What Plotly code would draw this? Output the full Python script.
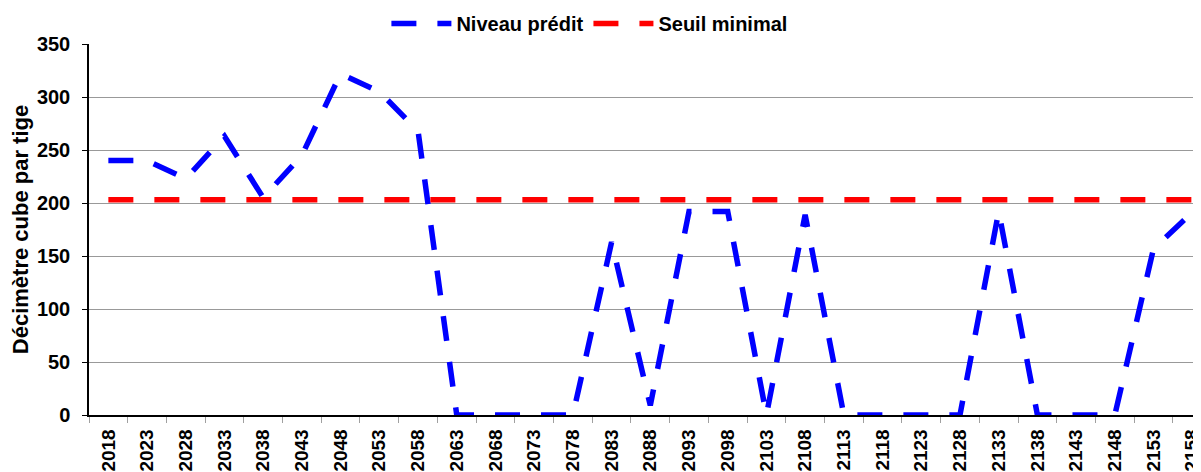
import plotly.graph_objects as go

years = [str(y) for y in range(2018, 2159, 5)]
niveau_predit = [240, 240, 223, 263, 205, 245, 322, 305, 268, 0, 0, 0, 0, 163, 9,
                 192, 192, 0, 189, 0, 0, 0, 0, 192, 0, 0, 0, 157, 191]
seuil_minimal = [203] * len(years)

FONT = "Arial, 'Liberation Sans', sans-serif"

fig = go.Figure()
fig.add_trace(go.Scatter(
    x=years, y=niveau_predit, mode="lines", name="Niveau prédit",
    line=dict(color="#0000FF", width=5.5, dash="25px,21px"),
))
fig.add_trace(go.Scatter(
    x=years, y=seuil_minimal, mode="lines", name="Seuil minimal",
    line=dict(color="#FF0000", width=5.5, dash="25px,21px"),
))

# the page body has an 8px margin; the figure is sized/offset to compensate
fig.update_layout(
    width=1193, height=464,
    margin=dict(l=81, r=0, t=36, b=57, autoexpand=False),
    paper_bgcolor="white", plot_bgcolor="white",
    font=dict(family=FONT, size=19, color="black", weight="bold"),
    showlegend=True,
    legend=dict(orientation="h", x=0.45, xanchor="center", y=1.055, yanchor="middle",
                font=dict(size=20, weight="bold"), itemwidth=60, bgcolor="rgba(0,0,0,0)"),
    xaxis=dict(
        type="category", categoryorder="array", categoryarray=years,
        range=[-0.5, -0.5 + (1201 - 89.3) / 38.7],
        automargin=False,
        showgrid=False, showline=True, linecolor="black", linewidth=1.5,
        ticks="outside", tickson="boundaries", ticklen=6, tickcolor="#a0a0a0",
        tickangle=-90, tickfont=dict(size=19, weight="bold"),
        ticklabelstandoff=5,
        zeroline=False,
    ),
    yaxis=dict(
        range=[0, 350], dtick=50, tick0=0,
        automargin=False,
        showgrid=True, gridcolor="#999999", gridwidth=1,
        showline=True, linecolor="black", linewidth=1.5,
        ticks="outside", ticklen=5, tickcolor="black",
        tickfont=dict(size=20, weight="bold"),
        ticklabelstandoff=8,
        zeroline=False,
        title=dict(text="Décimètre cube par tige", font=dict(size=22, weight="bold"), standoff=12),
    ),
)

fig.write_html("out.html")
